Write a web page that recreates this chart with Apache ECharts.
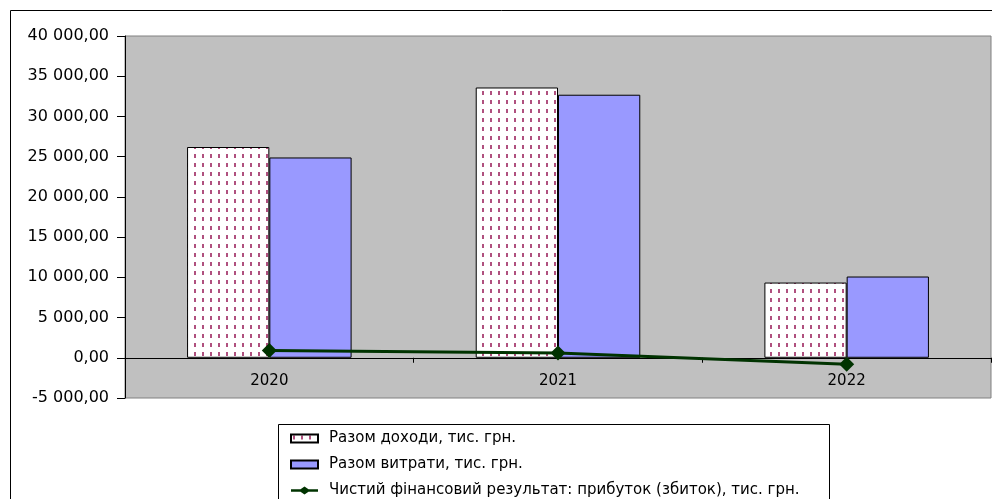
<!DOCTYPE html>
<html>
<head>
<meta charset="utf-8">
<script src="https://cdn.jsdelivr.net/npm/echarts@6/dist/echarts.min.js"></script>
<style>
html,body{margin:0;padding:0;background:#fff;}
#chart{width:992px;height:499px;}
</style>
</head>
<body>
<div id="chart"></div>
<script>
const categories = ['2020', '2021', '2022'];
const incomeValues = [26200, 33600, 9350];
const expenseValues = [24900, 32700, 10100];
const netResultValues = [900, 600, -800];
const seriesNames = ['Разом доходи, тис. грн.', 'Разом витрати, тис. грн.', 'Чистий фінансовий результат: прибуток (збиток), тис. грн.'];
const yMin = -5000, yMax = 40000, yStep = 5000;

function fmt(v) {
  const neg = v < 0;
  const parts = Math.abs(v).toFixed(2).split('.');
  const intPart = parts[0].replace(/\B(?=(\d{3})+(?!\d))/g, ' ');
  return (neg ? '-' : '') + intPart + ',' + parts[1];
}

// dashed-vertical pattern
const pc = document.createElement('canvas');
pc.width = 8; pc.height = 9;
const pctx = pc.getContext('2d');
pctx.fillStyle = '#ffffff';
pctx.fillRect(0, 0, 8, 9);
pctx.fillStyle = '#b0507f';
pctx.fillRect(2, 1, 2, 4);

const font = '"DejaVu Sans", sans-serif';
const fs = 15;
const chart = echarts.init(document.getElementById('chart'), null, {renderer: 'canvas'});
chart.setOption({
  animation: false,
  backgroundColor: '#ffffff',
  textStyle: {fontFamily: font, color: '#000'},
  graphic: [
    {type: 'rect', shape: {x: 10.5, y: 10.5, width: 1000, height: 1000}, style: {fill: 'none', stroke: '#000', lineWidth: 1}, z: -1},
    {type: 'rect', shape: {x: 278.5, y: 424.5, width: 551, height: 100}, style: {fill: '#fff', stroke: '#000', lineWidth: 1}, z: 0}
  ],
  grid: {left: 125, top: 36, right: 1, bottom: 101, show: true, backgroundColor: '#c0c0c0', borderColor: '#808080', borderWidth: 1},
  legend: {
    orient: 'vertical', left: 285, top: 426, height: 200, itemWidth: 27, itemHeight: 8, itemGap: 11,
    textStyle: {fontFamily: font, fontSize: fs, color: '#000', padding: [0, 0, 0, 6]},
    z: 5,
    data: [
      {name: seriesNames[0], icon: 'rect'},
      {name: seriesNames[1], icon: 'rect'},
      {name: seriesNames[2], icon: 'path://M0,2.7L9.5,2.7L13.5,0L17.5,2.7L27,2.7L27,5.3L17.5,5.3L13.5,8L9.5,5.3L0,5.3Z', itemStyle: {color: '#003300', borderWidth: 0}}
    ]
  },
  xAxis: {
    type: 'category', data: categories,
    axisLine: {onZero: true, lineStyle: {color: '#000', width: 1}},
    axisTick: {show: true, length: 5, lineStyle: {color: '#000'}},
    axisLabel: {fontFamily: font, fontSize: fs, color: '#000', margin: -24}
  },
  yAxis: {
    type: 'value', min: yMin, max: yMax, interval: yStep,
    axisLine: {show: true, lineStyle: {color: '#000', width: 1}},
    axisTick: {show: true, length: 8, lineStyle: {color: '#000'}},
    splitLine: {show: false},
    axisLabel: {fontFamily: font, fontSize: 16, color: '#000', margin: 16, formatter: fmt}
  },
  series: [
    {name: seriesNames[0], type: 'bar', data: incomeValues, barGap: '0%', barCategoryGap: '43%',
      itemStyle: {color: {image: pc, repeat: 'repeat'}, borderColor: '#000', borderWidth: 1}},
    {name: seriesNames[1], type: 'bar', data: expenseValues, barGap: '0%', barCategoryGap: '43%',
      itemStyle: {color: '#9999ff', borderColor: '#000', borderWidth: 1}},
    {name: seriesNames[2], type: 'line', data: netResultValues, symbol: 'diamond', symbolSize: 15,
      lineStyle: {color: '#003300', width: 3}, itemStyle: {color: '#003300'}, z: 5}
  ]
});
</script>
</body>
</html>
